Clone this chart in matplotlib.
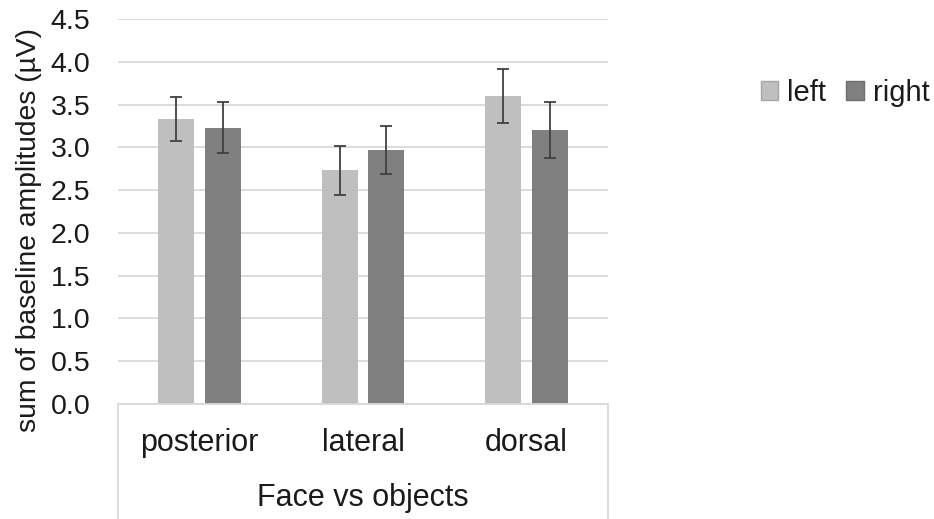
import matplotlib
matplotlib.use("Agg")
import matplotlib.pyplot as plt
import numpy as np

plt.rcParams['font.family'] = ['Liberation Sans', 'DejaVu Sans']

# data
regions = ["posterior", "lateral", "dorsal"]
group_label = "Face vs objects"
left_vals = [3.33, 2.73, 3.60]
left_err = [0.26, 0.29, 0.31]
right_vals = [3.23, 2.97, 3.20]
right_err = [0.30, 0.28, 0.33]
yticks = [0.0, 0.5, 1.0, 1.5, 2.0, 2.5, 3.0, 3.5, 4.0, 4.5]

W, H = 934, 519
fig = plt.figure(figsize=(W / 100, H / 100), dpi=100)
ax = fig.add_axes([118 / W, 1 - 404 / H, (608 - 118) / W, (404 - 19) / H])

x = np.arange(len(regions))
bw = 0.22
gap = 0.067
grid_c = "#d9d9d9"
txt_c = "#1a1a1a"

ax.bar(x - (bw + gap) / 2, left_vals, bw, color="#bfbfbf", label="left", zorder=2,
       yerr=left_err, error_kw=dict(ecolor="#404040", elinewidth=1.3, capsize=4, capthick=1.3))
ax.bar(x + (bw + gap) / 2, right_vals, bw, color="#808080", label="right", zorder=2,
       yerr=right_err, error_kw=dict(ecolor="#404040", elinewidth=1.3, capsize=4, capthick=1.3))

ax.set_xlim(-0.5, len(regions) - 0.5)
ax.set_ylim(0, 4.5)
ax.set_yticks(yticks)
ax.set_yticklabels([f"{v:.1f}" for v in yticks], fontsize=20.5, color=txt_c)
ax.yaxis.grid(True, color=grid_c, linewidth=1.3, zorder=0)
ax.set_axisbelow(True)
ax.tick_params(axis="y", length=0, pad=20)
ax.tick_params(axis="x", length=0, labelbottom=False)
for s in ["top", "right", "left"]:
    ax.spines[s].set_visible(False)
ax.spines["bottom"].set_color(grid_c)
ax.spines["bottom"].set_linewidth(1.3)

ax.set_ylabel("sum of baseline amplitudes (\u00b5V)", fontsize=20.3, color=txt_c)
ax.yaxis.set_label_coords(-(118 - 42) / (608 - 118), (404 - 230) / (404 - 19))

# multi-level category box under the axis
ybot = -(H - 404) / (404 - 19) * 1.0
for xx in [0, 1]:
    ax.plot([xx, xx], [0, ybot], transform=ax.transAxes, color=grid_c, lw=1.3, clip_on=False)
for i, r in enumerate(regions):
    ax.text(i, -(443 - 404) / (404 - 19) * 4.5, r, ha="center", va="center", fontsize=22,
            color=txt_c, clip_on=False)
ax.text(0.5, -(498 - 404) / (404 - 19), group_label, transform=ax.transAxes, ha="center",
        va="center", fontsize=22, color=txt_c, clip_on=False)

leg = fig.legend(loc="center", bbox_to_anchor=(845 / W, 1 - 93 / H), ncol=2, frameon=False,
                 fontsize=21, handlelength=0.6, handleheight=0.6, handletextpad=0.3,
                 columnspacing=0.7, labelcolor=txt_c)
for patch, ec in zip(leg.get_patches(), ["#a6a6a6", "#6e6e6e"]):
    patch.set_edgecolor(ec)

fig.savefig("out.png", dpi=100)
